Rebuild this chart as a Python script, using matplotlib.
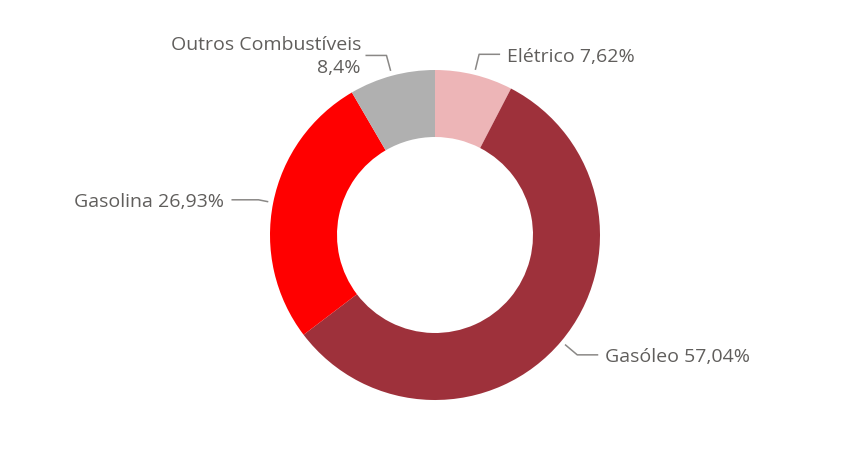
import numpy as np
import matplotlib
matplotlib.use("Agg")
import matplotlib.pyplot as plt

labels = ["Elétrico", "Gasóleo", "Gasolina", "Outros Combustíveis"]
values = [7.62, 57.04, 26.93, 8.4]
value_texts = ["7,62%", "57,04%", "26,93%", "8,4%"]
colors = ["#EDB5B7", "#9E313B", "#FF0000", "#B0B0B0"]

W, H = 846, 452
fig = plt.figure(figsize=(W / 100, H / 100), dpi=100)
ax = fig.add_axes([0, 0, 1, 1])

cx, cy = 435, H - 236
R = 165
wedges, _ = ax.pie(values, startangle=90, counterclock=False, colors=colors,
                   radius=R, center=(cx, cy), frame=True,
                   wedgeprops=dict(width=67, linewidth=0))
ax.set_xlim(0, W)
ax.set_ylim(0, H)
ax.set_aspect("equal")
ax.axis("off")

txt_color = "#605E5C"
line_color = "#8A8886"
fs = 14
fam = ["Open Sans", "DejaVu Sans"]

for w, lab, vt in zip(wedges, labels, value_texts):
    ang = np.deg2rad((w.theta1 + w.theta2) / 2)
    c, s = np.cos(ang), np.sin(ang)
    p0 = (cx + 170 * c, cy + 170 * s)
    if lab == "Gasolina":
        p1 = (cx + 180 * c, cy + 180 * s)
        seg = 27
    else:
        p1 = (cx + 186 * c, cy + 186 * s)
        seg = 21
    sign = 1 if c > 0 else -1
    p2 = (p1[0] + sign * seg, p1[1])
    ax.plot([p0[0], p1[0], p2[0]], [p0[1], p1[1], p2[1]], color=line_color, lw=1.1,
            solid_capstyle="butt")
    ha = "left" if sign > 0 else "right"
    tx = p2[0] + sign * 7
    if lab == "Outros Combustíveis":
        ax.text(tx + 3, p2[1] + 11, lab, ha=ha, va="center", fontsize=fs, color=txt_color, family=fam)
        ax.text(tx + 2, p2[1] - 12, vt, ha=ha, va="center", fontsize=fs, color=txt_color, family=fam)
    else:
        ax.text(tx, p2[1] - 1.5, f"{lab} {vt}", ha=ha, va="center", fontsize=fs,
                color=txt_color, family=fam)

fig.savefig("out.png", dpi=100)
